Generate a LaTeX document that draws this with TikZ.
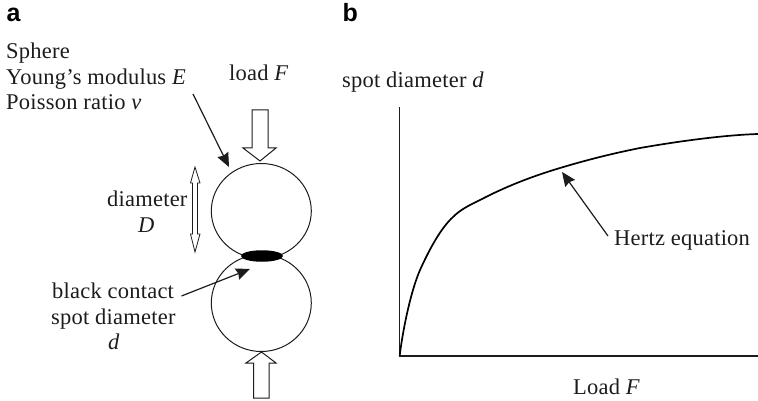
\documentclass[tikz,border=0pt]{standalone}
\usepackage{fontspec}
\setmainfont{Liberation Serif}[LetterSpace=1]
\newfontfamily\panelfont{Liberation Sans}[Scale=1]
\usetikzlibrary{arrows.meta,shapes.geometric}
\definecolor{ink}{HTML}{1c1c1c}
\tikzset{
  lbl/.style={inner sep=0pt,anchor=base west,text=ink,font=\fontsize{22.5}{25}\selectfont},
  panel/.style={inner sep=0pt,anchor=base west,text=black,font=\panelfont\bfseries\fontsize{25}{25}\selectfont},
  sphere/.style={ellipse,draw=ink,line width=1pt,minimum width=100pt,inner sep=0pt},
  spot/.style={ellipse,fill=black,minimum width=42pt,minimum height=11.5pt,inner sep=0pt},
  pointer/.style={draw=ink,line width=1.2pt,-{Stealth[length=14pt,width=12pt,inset=1.5pt]}},
  hollow/.style={draw=ink,line width=1pt,fill=white,line join=miter},
  axisline/.style={draw=ink,line width=1.1pt},
  curve/.style={draw=black,line width=1.7pt}
}
\begin{document}
\begin{tikzpicture}[x=1pt,y=-1pt]
\useasboundingbox (0,0) rectangle (758,401);
\node[panel] (pa) at (6.5,22) {a};
\node[panel] (pb) at (342.5,22) {b};
\node[lbl] (t1) at (6,59) {Sphere};
\node[lbl] (t2) at (6,85) {Young’s modulus \textit{E}};
\node[lbl] (t3) at (6,110) {Poisson ratio \textit{v}};
\node[lbl] (tl) at (229,81) {load \textit{F}};
\node[lbl] (td1) at (107,207) {diameter};
\node[lbl] (td2) at (138,233) {\textit{D}};
\node[lbl] (tb1) at (52,298) {black contact};
\node[lbl] (tb2) at (51,324) {spot diameter};
\node[lbl] (tb3) at (108,349) {\textit{d}};
\node[lbl] (ty) at (342,88) {spot diameter \textit{d}};
\node[lbl] (th) at (614,245) {Hertz equation};
\node[lbl] (tx) at (573,394) {Load \textit{F}};
% spheres
\node[sphere,minimum height=95pt] (s1) at (261.3,211) {};
\node[sphere,minimum height=97pt] (s2) at (261.3,303) {};
\node[spot] (sp) at (262,256) {};
% hollow arrows
\draw[hollow] (252,110)--(268,110)--(268,148)--(276,148)--(260,161)--(243,148)--(252,148)--cycle;
\draw[hollow] (261.5,352)--(276,363)--(269,363)--(269,398)--(253.5,398)--(253.5,363)--(246,363)--cycle;
\draw[hollow,line width=0.8pt] (195,167)--(200,183)--(197.5,183)--(197.5,234)--(200,234)--(195,252)--(190.5,234)--(192.5,234)--(192.5,183)--(190.5,183)--cycle;
% pointers
\coordinate (a1s) at (193,94); \coordinate (a1e) at (229,167);
\coordinate (a2s) at (181.5,296); \coordinate (a2e) at (250,269);
\coordinate (a3s) at (608,236); \coordinate (a3e) at (562,172);
\draw[pointer] (a1s)--(a1e);
\draw[pointer] (a2s)--(a2e);
\draw[pointer] (a3s)--(a3e);
% axes
\coordinate (o) at (399.7,356); \coordinate (yt) at (399.7,107); \coordinate (xr) at (758,356);
\draw[axisline] (yt)--(o)--(xr);
\draw[curve] (o) .. controls (402,335) and (410,293) .. (420,270)
  .. controls (430,248) and (441,228) .. (453,217)
  .. controls (461,209) and (470,205) .. (480,200)
  .. controls (505,187) and (530,177) .. (560,168)
  .. controls (590,159) and (615,153) .. (640,148)
  .. controls (680,141) and (725,135) .. (758,134);
\end{tikzpicture}
\end{document}
